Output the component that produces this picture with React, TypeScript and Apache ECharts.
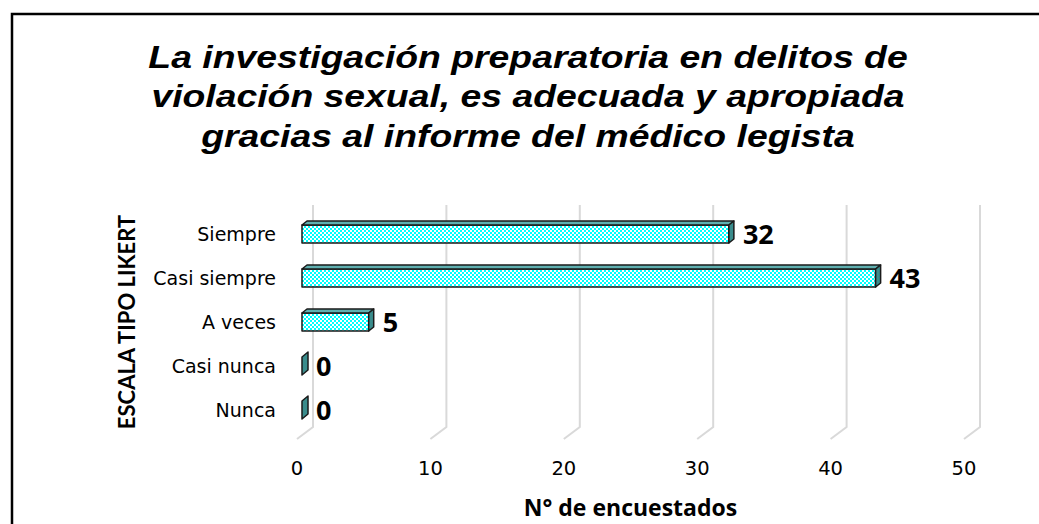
import React, { useEffect, useRef } from "react";
import * as echarts from "echarts";

const titleLines = [
  "La investigación preparatoria en delitos de",
  "violación sexual, es adecuada y apropiada",
  "gracias al informe del médico legista",
];
const categories = ["Siempre", "Casi siempre", "A veces", "Casi nunca", "Nunca"];
const values = [32, 43, 5, 0, 0];
const xTicks = [0, 10, 20, 30, 40, 50];
const xAxisName = "N° de encuestados";
const yAxisName = "ESCALA TIPO LIKERT";

function makePattern(c1: string, c2: string) {
  const cv = document.createElement("canvas");
  cv.width = 4;
  cv.height = 4;
  const ctx = cv.getContext("2d")!;
  ctx.fillStyle = c1;
  ctx.fillRect(0, 0, 4, 4);
  ctx.fillStyle = c2;
  ctx.fillRect(0, 0, 2, 2);
  ctx.fillRect(2, 2, 2, 2);
  return { image: cv, repeat: "repeat", imageWidth: 4, imageHeight: 4 } as any;
}

export default function App() {
  const ref = useRef<HTMLDivElement>(null);
  useEffect(() => {
    document.body.style.margin = "0";
    const chart = echarts.init(ref.current!, undefined, { renderer: "svg" });
    const frontFill = makePattern("#00FFFF", "#FFFFFF");
    const topFill = "#5fb0b0";
    const sideFill = "#3a8c8c";
    const DX = 5;
    const DY = 4;
    const H = 18;

    const option: any = {
      animation: false,
      backgroundColor: "#fff",
      graphic: [
        {
          type: "text",
          x: 528,
          y: 37,
          scaleX: 1.167,
          style: {
            text: titleLines.join("\n"),
            align: "center",
            verticalAlign: "top",
            font: "italic bold 32px 'Liberation Sans'",
            lineHeight: 39.5,
            fill: "#000",
          },
          z: 50,
        },
        {
          type: "rect",
          shape: { x: 12, y: 14, width: 1100, height: 600 },
          style: { fill: "none", stroke: "#000", lineWidth: 2.5 },
          z: 100,
        },
      ],
      grid: { left: 297, right: 75, top: 212, height: 220 },
      xAxis: {
        type: "value",
        min: 0,
        max: 50,
        interval: 10,
        splitLine: { show: false },
        axisLine: { show: false },
        axisTick: { show: false },
        axisLabel: {
          margin: 26,
          fontFamily: "DejaVu Sans",
          fontSize: 19.5,
          color: "#000",
        },
        name: xAxisName,
        nameLocation: "middle",
        nameGap: 63,
        nameTextStyle: {
          fontFamily: "Open Sans",
          fontWeight: "bold",
          fontSize: 23,
          color: "#000",
        },
      },
      yAxis: {
        type: "category",
        data: categories,
        inverse: true,
        axisLine: { show: false },
        axisTick: { show: false },
        splitLine: { show: false },
        axisLabel: {
          margin: 21,
          fontFamily: "DejaVu Sans",
          fontSize: 19,
          color: "#000",
          padding: [4, 0, 0, 0],
        },
        name: yAxisName,
        nameLocation: "middle",
        nameRotate: 90,
        nameGap: 160,
        nameTextStyle: {
          fontFamily: "Lato",
          fontWeight: "bold",
          fontSize: 22,
          color: "#000",
        },
      },
      series: [
        {
          type: "custom",
          z: 1,
          data: xTicks.map((v) => [v, 0]),
          encode: { x: 0, y: 1 },
          renderItem: (params: any, api: any) => {
            const v = api.value(0);
            const x = api.coord([v, 0])[0];
            const cs = params.coordSys;
            const top = cs.y - 7;
            const bot = cs.y + cs.height - 5;
            const floor = cs.y + cs.height + 7;
            return {
              type: "polyline",
              shape: {
                points: [
                  [x + 16, top],
                  [x + 16, bot],
                  [x, floor],
                ],
              },
              style: { stroke: "#d9d9d9", lineWidth: 2, fill: "none" },
            };
          },
        },
        {
          type: "custom",
          z: 2,
          data: values.map((v, i) => [v, i]),
          encode: { x: 0, y: 1 },
          renderItem: (params: any, api: any) => {
            const v = api.value(0);
            const idx = api.value(1);
            const p0 = api.coord([0, idx]);
            const p1 = api.coord([v, idx]);
            const x0 = p0[0] + DX;
            const x1 = p1[0] + DX;
            const yc = p0[1];
            const yt = yc - H / 2;
            const yb = yc + H / 2;
            const stroke = { stroke: "#1a1a1a", lineWidth: 1.5, lineJoin: "round" };
            const children: any[] = [];
            const dx = x1 - x0 > 0.5 ? DX : DX + 1;
            const dy = x1 - x0 > 0.5 ? DY : DY + 1;
            if (x1 - x0 > 0.5) {
              children.push({
                type: "rect",
                shape: { x: x0, y: yt, width: x1 - x0, height: H },
                style: { fill: frontFill, ...stroke },
              });
              children.push({
                type: "polygon",
                shape: {
                  points: [
                    [x0, yt],
                    [x0 + dx, yt - dy],
                    [x1 + dx, yt - dy],
                    [x1, yt],
                  ],
                },
                style: { fill: topFill, ...stroke },
              });
            }
            children.push({
              type: "polygon",
              shape: {
                points: [
                  [x1, yt],
                  [x1 + dx, yt - dy],
                  [x1 + dx, yb - dy],
                  [x1, yb],
                ],
              },
              style: { fill: sideFill, ...stroke },
            });
            children.push({
              type: "text",
              style: {
                text: String(v),
                x: x1 + DX + 9,
                y: yc - 1,
                verticalAlign: "middle",
                align: "left",
                font: "bold 27px 'Open Sans'",
                fill: "#000",
              },
            });
            return { type: "group", children };
          },
        },
      ],
    };
    chart.setOption(option);
    return () => chart.dispose();
  }, []);
  return <div ref={ref} style={{ width: 1039, height: 524 }} />;
}
